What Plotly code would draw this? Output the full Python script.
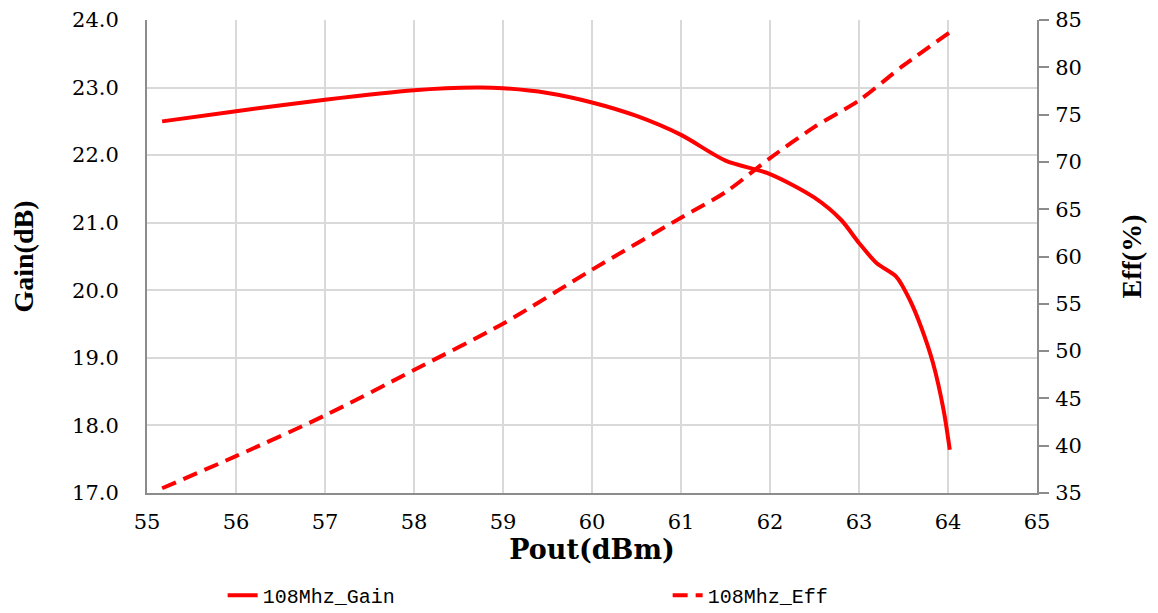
import plotly.graph_objects as go

pout_gain = [55.17, 56.0, 57.0, 58.0, 58.7, 59.0, 59.5, 60.0, 60.5, 61.0, 61.5, 62.0, 62.5, 62.8, 63.0, 63.2, 63.42, 63.57, 63.7, 63.83, 63.95, 64.02]
gain = [22.5, 22.65, 22.82, 22.96, 23.0, 22.99, 22.92, 22.78, 22.58, 22.3, 21.92, 21.72, 21.37, 21.04, 20.7, 20.4, 20.2, 19.86, 19.45, 18.93, 18.23, 17.64]

pout_eff = [55.17, 56.0, 57.0, 58.0, 59.0, 60.0, 61.0, 61.5, 62.0, 62.5, 63.0, 63.5, 64.02]
eff = [35.5, 38.9, 43.2, 48.0, 52.9, 58.6, 64.1, 66.8, 70.4, 73.7, 76.5, 80.2, 83.7]

x_ticks = list(range(55, 66))
gain_ticks = [17, 18, 19, 20, 21, 22, 23, 24]
eff_ticks = [35, 40, 45, 50, 55, 60, 65, 70, 75, 80, 85]

RED = "#ff0000"
GRID = "#d9d9d9"
AXIS = "#8c8c8c"
tickfont = dict(family="DejaVu Serif", size=21, color="#000000")
legfont = dict(family="Liberation Mono", size=20, color="#000000")

fig = go.Figure()
fig.add_trace(go.Scatter(x=pout_gain, y=gain, mode="lines", name="108Mhz_Gain", legend="legend",
                         line=dict(color=RED, width=4, shape="spline", smoothing=0.8)))
fig.add_trace(go.Scatter(x=pout_eff, y=eff, mode="lines", name="108Mhz_Eff", yaxis="y2", legend="legend2",
                         line=dict(color=RED, width=4, dash="15px,8px", shape="spline", smoothing=0.8)))

fig.update_layout(
    width=1150, height=605,
    margin=dict(l=139, r=121, t=12, b=120, autoexpand=False),
    paper_bgcolor="white", plot_bgcolor="white",
    xaxis=dict(range=[55, 65], tickvals=x_ticks, ticktext=[str(v) for v in x_ticks],
               showgrid=True, gridcolor=GRID, gridwidth=2, automargin=False,
               showline=True, linecolor=AXIS, linewidth=2, ticks="",
               tickfont=tickfont, zeroline=False, ticklabelstandoff=9,
               title=dict(text="<b>Pout(dBm)</b>", font=dict(family="DejaVu Serif", size=27, color="#000"), standoff=6)),
    yaxis=dict(range=[17, 24], tickvals=gain_ticks, ticktext=[f"{v:.1f}" for v in gain_ticks],
               showgrid=True, gridcolor=GRID, gridwidth=2, automargin=False,
               showline=True, linecolor=AXIS, linewidth=2, ticks="",
               tickfont=tickfont, zeroline=False, ticklabelstandoff=22,
               title=dict(text="<b>Gain(dB)</b>", font=dict(family="Liberation Serif", size=28, color="#000"), standoff=30)),
    yaxis2=dict(range=[35, 85], tickvals=eff_ticks, ticktext=[str(v) for v in eff_ticks],
                overlaying="y", side="right", showgrid=False, automargin=False,
                showline=True, linecolor=AXIS, linewidth=2,
                ticks="outside", ticklen=10, tickcolor=AXIS, tickwidth=2,
                tickfont=tickfont, zeroline=False, ticklabelstandoff=2,
                title=dict(text="<b>Eff(%)</b>", font=dict(family="Liberation Serif", size=28, color="#000"), standoff=40)),
    legend=dict(orientation="h", x=0.085, xanchor="left", y=-0.216, yanchor="middle",
                font=legfont, bgcolor="rgba(0,0,0,0)"),
    legend2=dict(orientation="h", x=0.585, xanchor="left", y=-0.216, yanchor="middle",
                 font=legfont, bgcolor="rgba(0,0,0,0)"),
    showlegend=True,
)

fig.write_html("out.html")
